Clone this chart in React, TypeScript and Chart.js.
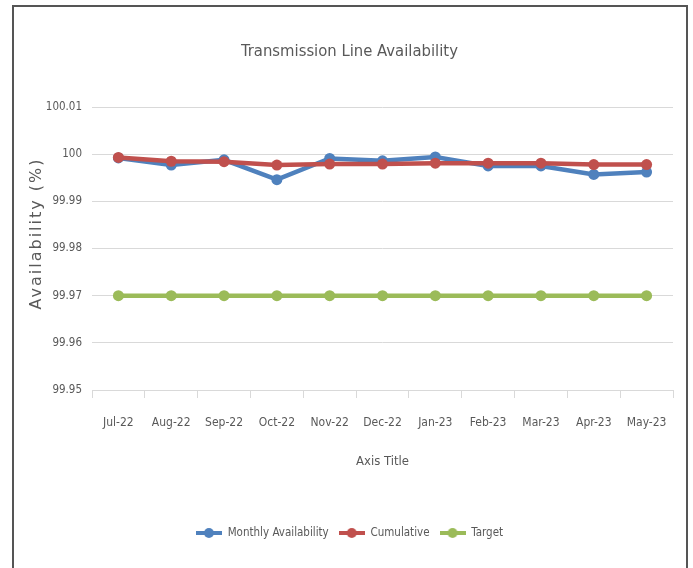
import React, { useEffect, useRef } from "react";
import { Chart, registerables } from "chart.js";

Chart.register(...registerables);

const categories = ["Jul-22", "Aug-22", "Sep-22", "Oct-22", "Nov-22", "Dec-22", "Jan-23", "Feb-23", "Mar-23", "Apr-23", "May-23"];
const monthly = [99.9992, 99.9977, 99.9988, 99.9946, 99.9991, 99.9986, 99.9994, 99.9975, 99.9975, 99.9957, 99.9962];
const cumulative = [99.9993, 99.9985, 99.9984, 99.9977, 99.9979, 99.9979, 99.9981, 99.9981, 99.9981, 99.9978, 99.9978];
const target = [99.97, 99.97, 99.97, 99.97, 99.97, 99.97, 99.97, 99.97, 99.97, 99.97, 99.97];
const yMin = 99.95;
const yMax = 100.01;
const yStep = 0.01;

const FONT = "'Liberation Sans Narrow', 'DejaVu Sans Condensed', sans-serif";
const TEXT = "#595959";
const BLUE = "#4F81BD";
const RED = "#C0504D";
const GREEN = "#9BBB59";

function legendIcon(color: string): HTMLCanvasElement {
  const c = document.createElement("canvas");
  c.width = 26;
  c.height = 12;
  const ctx = c.getContext("2d")!;
  ctx.strokeStyle = color;
  ctx.lineWidth = 4;
  ctx.beginPath();
  ctx.moveTo(0, 6);
  ctx.lineTo(26, 6);
  ctx.stroke();
  ctx.fillStyle = color;
  ctx.beginPath();
  ctx.arc(13, 6, 5, 0, Math.PI * 2);
  ctx.fill();
  return c;
}

const yTitlePlugin = {
  id: "yTitle",
  afterDraw(chart: any) {
    const { ctx, chartArea } = chart;
    ctx.save();
    ctx.translate(37, (chartArea.top + chartArea.bottom) / 2 - 15);
    ctx.rotate(-Math.PI / 2);
    ctx.font = "16px 'DejaVu Sans', sans-serif";
    (ctx as any).letterSpacing = "2px";
    ctx.fillStyle = TEXT;
    ctx.textAlign = "center";
    ctx.textBaseline = "middle";
    ctx.fillText("Availability (%)", 0, 0);
    ctx.restore();
  },
};

export default function App() {
  const ref = useRef<HTMLCanvasElement>(null);

  useEffect(() => {
    if (!ref.current) return;
    const colors = [BLUE, RED, GREEN];
    const names = ["Monthly Availability", "Cumulative", "Target"];
    const series = [monthly, cumulative, target];
    const orders = [1, 0, 2];
    const chart = new Chart(ref.current, {
      type: "line",
      data: {
        labels: categories,
        datasets: series.map((d, i) => ({
          label: names[i],
          data: d,
          borderColor: colors[i],
          backgroundColor: colors[i],
          borderWidth: 4.5,
          pointRadius: 5.5,
          pointBorderWidth: 0,
          pointBackgroundColor: colors[i],
          tension: 0,
          order: orders[i],
        })),
      },
      options: {
        animation: false,
        responsive: false,
        maintainAspectRatio: false,
        layout: { padding: { left: 26, right: 20, top: 0, bottom: 19.25 } },
        plugins: {
          tooltip: { enabled: false },
          title: {
            display: true,
            text: "Transmission Line Availability",
            color: TEXT,
            font: { family: FONT, size: 16.5, weight: "normal" },
            padding: { top: 42, bottom: 45.2 },
          },
          legend: {
            position: "bottom",
            labels: {
              usePointStyle: true,
              pointStyleWidth: 26,
              padding: 10,
              color: TEXT,
              font: { family: FONT, size: 11.5 },
              generateLabels: () =>
                names.map((n, i) => ({
                  text: n,
                  datasetIndex: i,
                  pointStyle: legendIcon(colors[i]),
                  fillStyle: colors[i],
                  strokeStyle: colors[i],
                  lineWidth: 0,
                  hidden: false,
                  fontColor: TEXT,
                })),
            },
          },
        },
        scales: {
          x: {
            type: "category",
            offset: true,
            afterFit: (s: any) => {
              s.height = 127.25;
            },
            grid: {
              drawOnChartArea: false,
              drawTicks: true,
              tickLength: 8,
              offset: true,
              color: "#d9d9d9",
            },
            border: { display: true, color: "#d9d9d9" },
            ticks: {
              color: TEXT,
              font: { family: FONT, size: 12 },
              padding: 18,
              maxRotation: 0,
              autoSkip: false,
            },
            title: {
              display: true,
              text: "Axis Title",
              color: TEXT,
              font: { family: FONT, size: 13 },
              padding: { top: 4, bottom: 47.4 },
            },
          },
          y: {
            min: yMin,
            max: yMax,
            afterFit: (s: any) => {
              s.width = 66;
            },
            grid: { drawTicks: false, color: "#d9d9d9" },
            border: { display: false },
            ticks: {
              stepSize: yStep,
              padding: 10,
              color: TEXT,
              font: { family: FONT, size: 11.5 },
              callback: (v: any) => String(Number(Number(v).toFixed(2))),
            },
          },
        },
      },
      plugins: [yTitlePlugin],
    });
    return () => chart.destroy();
  }, []);

  return (
    <div style={{ position: "absolute", left: 0, top: 0, width: 693, height: 568, overflow: "hidden", background: "#fff" }}>
      <canvas ref={ref} width={693} height={568} style={{ position: "absolute", left: 0, top: 0, width: 693, height: 568 }} />
      <div
        style={{
          position: "absolute",
          left: 12,
          top: 5,
          width: 672,
          height: 620,
          borderTop: "2px solid #555",
          borderLeft: "2px solid #555",
          borderRight: "2px solid #555",
          pointerEvents: "none",
        }}
      />
    </div>
  );
}
